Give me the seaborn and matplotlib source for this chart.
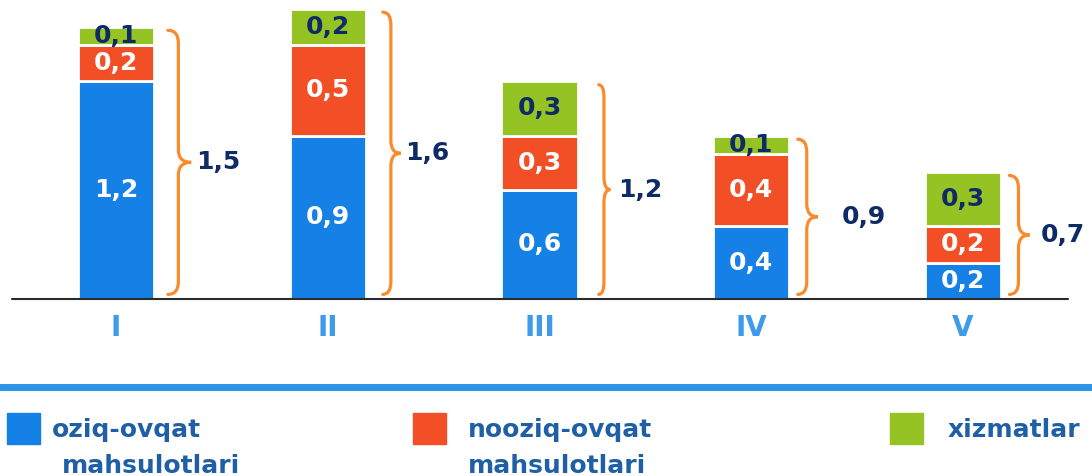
import pandas as pd
import seaborn as sns
import matplotlib.pyplot as plt
from matplotlib.path import Path
from matplotlib.patches import PathPatch, Rectangle
from matplotlib.lines import Line2D


# data
quarters = ["I", "II", "III", "IV", "V"]
food = [1.2, 0.9, 0.6, 0.4, 0.2]
nonfood = [0.2, 0.5, 0.3, 0.4, 0.2]
services = [0.1, 0.2, 0.3, 0.1, 0.3]
totals = ["1,5", "1,6", "1,2", "0,9", "0,7"]
series_names = ["oziq-ovqat\nmahsulotlari", "nooziq-ovqat\nmahsulotlari", "xizmatlar"]

colors = ["#1581e6", "#f34f26", "#95c323"]
text_colors = ["white", "white", "#0f2b66"]
navy = "#0f2b66"
orange = "#fb8a2c"

sns.set_style("white")
plt.rcParams["font.family"] = ["DejaVu Sans"]

fig = plt.figure(figsize=(10.92, 4.76), dpi=100)
ax = fig.add_axes([0, 0.372, 1, 0.628])

df = pd.DataFrame({"quarter": quarters, "food": food, "nonfood": nonfood, "services": services})
df["b1"] = df["food"]
df["b2"] = df["food"] + df["nonfood"]

bottoms = [None, "b1", "b2"]
for col, bcol, c, tc in zip(["food", "nonfood", "services"], bottoms, colors, text_colors):
    bottom = 0 if bcol is None else df[bcol]
    sns.barplot(data=df, x="quarter", y=col, order=quarters, bottom=bottom, color=c,
                width=0.36, edgecolor="white", linewidth=2, saturation=1, ax=ax)
    for i, v in enumerate(df[col]):
        b = 0 if bcol is None else df[bcol][i]
        ax.text(i, b + v / 2, f"{v:.1f}".replace(".", ","), ha="center", va="center",
                color=tc, fontsize=18, fontweight="bold")

ax.set_xlim(-0.548, 4.61)
ax.set_ylim(0, 1.647)
ax.set_xlabel("")
ax.set_ylabel("")
ax.set_yticks([])
for s in ax.spines.values():
    s.set_visible(False)
ax.axhline(0, xmin=0.011, xmax=0.978, color="#2b2b2b", lw=1.5, clip_on=False)
ax.tick_params(axis="x", length=9, width=1.5, color="#2b2b2b", pad=2,
               labelcolor="#3d9be9", labelsize=20)
for t in ax.get_xticklabels():
    t.set_fontweight("bold")


def brace(x0, y0, y1, w, r=0.07):
    xm = x0 + w * 0.45
    xp = x0 + w
    mid = (y0 + y1) / 2
    verts = [(x0, y1), (xm, y1), (xm, y1 - r), (xm, mid + r), (xm, mid), (xp, mid),
             (xm, mid), (xm, mid - r), (xm, y0 + r), (xm, y0), (x0, y0)]
    codes = [Path.MOVETO, Path.CURVE3, Path.CURVE3, Path.LINETO, Path.CURVE3, Path.CURVE3,
             Path.CURVE3, Path.CURVE3, Path.LINETO, Path.CURVE3, Path.CURVE3]
    ax.add_patch(PathPatch(Path(verts, codes), fill=False, ec=orange, lw=2.3,
                           capstyle="round", clip_on=False))
    return mid


# brace placement, relative to the bar centre
brace_x = [0.245, 0.26, 0.28, 0.22, 0.22]
brace_w = [0.11, 0.085, 0.055, 0.095, 0.095]
label_x = [0.38, 0.365, 0.37, 0.43, 0.37]
for i in range(len(quarters)):
    top = food[i] + nonfood[i] + services[i]
    mid = brace(i + brace_x[i], 0.025, top - 0.02, brace_w[i])
    ax.text(i + label_x[i], mid, totals[i], ha="left", va="center",
            color=navy, fontsize=18, fontweight="bold")

# separator line above the legend
fig.add_artist(Line2D([0, 1], [0.186, 0.186], color="#2f93e8", lw=5))

# legend
box_x = [7, 413, 890]
text_x = [52, 468, 948]
indent = [10, 0, 0]
for name, c, bx, tx, ind in zip(series_names, colors, box_x, text_x, indent):
    fig.add_artist(Rectangle((bx / 1092, 32 / 476), 33 / 1092, 31 / 476,
                             transform=fig.transFigure, color=c))
    lines = name.split("\n")
    for k, line in enumerate(lines):
        fig.text((tx + (ind if k else 0)) / 1092, (476 - 437 - 36 * k) / 476, line,
                 ha="left", va="baseline", color="#1f5fa6", fontsize=18, fontweight="bold")

fig.savefig("out.png", dpi=100)
